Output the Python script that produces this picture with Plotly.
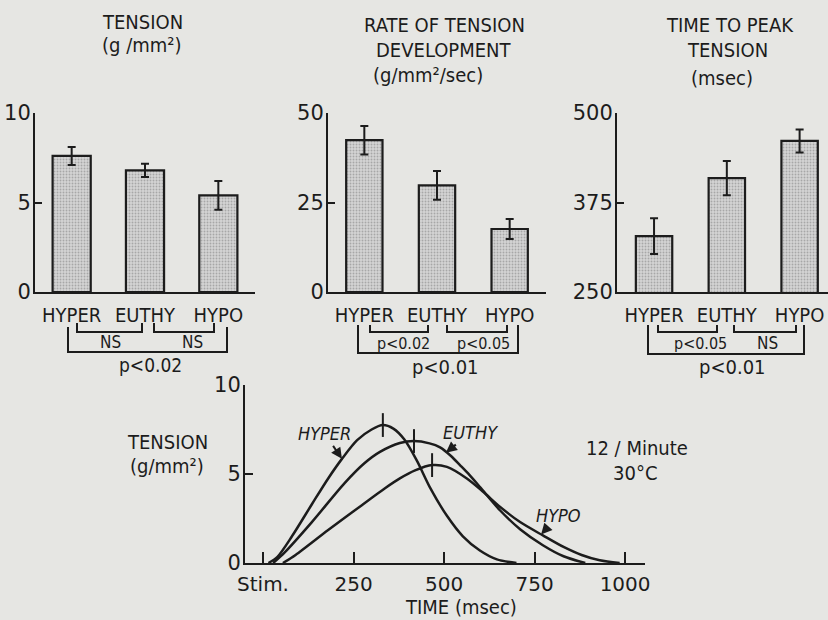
import plotly.graph_objects as go

W, H = 828, 620

# ---------------- data ----------------
groups = ["HYPER", "EUTHY", "HYPO"]
tension_mean = [7.6, 6.8, 5.4]
tension_err = [0.5, 0.37, 0.8]
rate_mean = [42.4, 29.8, 17.6]
rate_err = [4.0, 4.0, 2.8]
ttp_mean = [328, 409, 461]
ttp_err = [25, 24, 16]

hyper_t = [15, 40, 80, 135, 180, 218, 260, 300, 331, 360, 390, 425, 461, 508, 552, 599, 646, 700]
hyper_v = [0, 0.35, 1.5, 3.3, 4.75, 5.85, 6.9, 7.5, 7.75, 7.55, 6.95, 5.75, 4.25, 2.65, 1.5, 0.7, 0.2, 0]
euthy_t = [28, 60, 135, 226, 280, 323, 378, 417, 460, 489, 520, 544, 570, 600, 655, 710, 773, 830, 890]
euthy_v = [0, 0.6, 2.3, 4.5, 5.6, 6.24, 6.74, 6.85, 6.72, 6.5, 6.0, 5.5, 4.95, 4.25, 2.95, 1.9, 1.0, 0.38, 0]
hypo_t = [55, 90, 180, 273, 337, 378, 420, 467, 508, 563, 608, 655, 710, 773, 830, 880, 930, 985]
hypo_v = [0, 0.45, 1.85, 3.25, 4.2, 4.75, 5.2, 5.5, 5.4, 4.75, 4.0, 3.15, 2.3, 1.55, 0.9, 0.45, 0.15, 0]
peak_t = [331, 417, 467]
peak_v = [7.75, 6.85, 5.5]

time_ticks = [0, 250, 500, 750, 1000]
time_ticktext = ["Stim.", "250", "500", "750", "1000"]

# ---------------- style ----------------
INK = "#1c1c1c"
BG = "#e6e6e3"
LFONT = "DejaVu Sans Condensed, Liberation Sans Narrow, DejaVu Sans, sans-serif"
NFONT = "DejaVu Sans, sans-serif"


def X(px):
    return px / W


def Y(py):
    return 1 - py / H


fig = go.Figure()

bar_marker = dict(
    color="#c6c6c6",
    line=dict(color=INK, width=2.2),
    pattern=dict(shape=".", fgcolor="#7a7a7a", bgcolor="#d4d4d4", size=3, solidity=0.3),
)


def err(a):
    return dict(type="data", array=a, thickness=2, width=4, color=INK)


fig.add_trace(go.Bar(x=groups, y=tension_mean, error_y=err(tension_err), marker=bar_marker,
                     width=0.52, xaxis="x", yaxis="y", showlegend=False))
fig.add_trace(go.Bar(x=groups, y=rate_mean, error_y=err(rate_err), marker=bar_marker,
                     width=0.5, xaxis="x2", yaxis="y2", showlegend=False))
fig.add_trace(go.Bar(x=groups, y=ttp_mean, error_y=err(ttp_err), marker=bar_marker,
                     width=0.5, xaxis="x3", yaxis="y3", showlegend=False))

for t, v in [(hyper_t, hyper_v), (euthy_t, euthy_v), (hypo_t, hypo_v)]:
    fig.add_trace(go.Scatter(x=t, y=v, mode="lines",
                             line=dict(color=INK, width=2.5, shape="spline", smoothing=0.8),
                             xaxis="x4", yaxis="y4", showlegend=False, hoverinfo="skip"))
fig.add_trace(go.Scatter(x=peak_t, y=peak_v, mode="markers",
                         marker=dict(symbol="line-ns", size=17, line=dict(width=2, color=INK)),
                         xaxis="x4", yaxis="y4", showlegend=False))

common_axis = dict(showline=True, linecolor=INK, linewidth=2, showgrid=False, zeroline=False,
                   fixedrange=True, automargin=False)
ytop = dict(common_axis, ticks="inside", ticklen=7, tickwidth=2, tickcolor=INK,
            tickfont=dict(family=NFONT, size=21, color=INK), ticklabelstandoff=-2)
xtop = dict(common_axis, ticks="", tickfont=dict(family=LFONT, size=20, color=INK),
            ticklabelstandoff=4, type="category")

top_y_dom = [Y(292), Y(113)]
fig.update_layout(
    width=W, height=H, autosize=False,
    margin=dict(l=0, r=0, t=0, b=0, pad=0),
    paper_bgcolor=BG, plot_bgcolor="rgba(0,0,0,0)",
    xaxis=dict(xtop, domain=[X(35), X(255)], range=[-0.5, 2.5], anchor="y"),
    yaxis=dict(ytop, domain=top_y_dom, range=[0, 10], tickvals=[0, 5, 10], anchor="x"),
    xaxis2=dict(xtop, domain=[X(328), X(546)], range=[-0.5, 2.5], anchor="y2"),
    yaxis2=dict(ytop, domain=top_y_dom, range=[0, 50], tickvals=[0, 25, 50], anchor="x2"),
    xaxis3=dict(xtop, domain=[X(617), 1.0], range=[-0.509, 2.39], anchor="y3"),
    yaxis3=dict(ytop, domain=top_y_dom, range=[250, 500], tickvals=[250, 375, 500], anchor="x3"),
    xaxis4=dict(common_axis, domain=[X(245), X(645)], range=[-49.7, 1055], anchor="y4",
                tickvals=time_ticks, ticktext=time_ticktext, ticks="inside", ticklen=11,
                tickwidth=2, tickcolor=INK, tickfont=dict(family=NFONT, size=20, color=INK),
                ticklabelstandoff=2),
    yaxis4=dict(common_axis, domain=[Y(563), Y(385)], range=[0, 10], tickvals=[0, 5, 10],
                anchor="x4", ticks="inside", ticklen=8, tickwidth=2, tickcolor=INK,
                tickfont=dict(family=NFONT, size=21, color=INK), ticklabelstandoff=-2),
)

annotations = []


def txt(px, py, s, size=19, family=LFONT):
    annotations.append(dict(x=X(px), y=Y(py), xref="paper", yref="paper", text=s,
                            showarrow=False, xanchor="center", yanchor="middle",
                            font=dict(family=family, size=size, color=INK)))


# panel titles
txt(142, 22, "TENSION", 20)
txt(142, 45, "(g /mm²)", 20)
txt(444, 25, "RATE OF TENSION", 20)
txt(444, 50, "DEVELOPMENT", 20)
txt(428, 75, "(g/mm²/sec)", 20)
txt(730, 25, "TIME TO PEAK", 20)
txt(727, 50, "TENSION", 20)
txt(722, 78, "(msec)", 20)

# significance labels
txt(110, 342, "NS", 17)
txt(192, 342, "NS", 17)
txt(150, 365, "p<0.02", 19)
txt(403, 343, "p<0.02", 16)
txt(483, 343, "p<0.05", 16)
txt(445, 367, "p<0.01", 20)
txt(700, 343, "p<0.05", 16)
txt(767, 343, "NS", 17)
txt(732, 367, "p<0.01", 20)

# bottom panel texts
txt(167, 442, "TENSION", 20)
txt(167, 466, "(g/mm²)", 20)
txt(637, 448, "12 / Minute", 20)
txt(635, 473, "30°C", 20)
txt(461, 607, "TIME (msec)", 20)


# curve labels with arrows pointing at the curves (tips in data coords of bottom panel)
def curve_label(s, tip_t, tip_v, dx, dy):
    annotations.append(dict(x=tip_t, y=tip_v, xref="x4", yref="y4", text=s,
                            showarrow=True, ax=dx, ay=dy, axref="pixel", ayref="pixel",
                            arrowhead=2, arrowsize=1.1, arrowwidth=2, arrowcolor=INK,
                            font=dict(family=LFONT, size=18, color=INK)))


curve_label("<i>HYPER</i>", 218, 5.85, -17, -25)
curve_label("<i>EUTHY</i>", 505, 6.2, 25, -20)
curve_label("<i>HYPO</i>", 768, 1.6, 17, -19)

fig.update_layout(annotations=annotations)

# brackets
shapes = []


def bracket(x0, x1, y0, y1):
    path = f"M {X(x0)},{Y(y0)} L {X(x0)},{Y(y1)} L {X(x1)},{Y(y1)} L {X(x1)},{Y(y0)}"
    shapes.append(dict(type="path", path=path, xref="paper", yref="paper",
                       line=dict(color=INK, width=2)))


bracket(77, 142, 323, 332)
bracket(154, 214, 323, 332)
bracket(68, 227, 327, 352)
bracket(370, 428, 325, 332)
bracket(447, 507, 325, 332)
bracket(358, 518, 325, 353)
bracket(658, 717, 325, 332)
bracket(734, 796, 325, 332)
bracket(648, 804, 325, 354)

fig.update_layout(shapes=shapes)

fig.write_html("out.html", config={"displayModeBar": False},
               post_script="document.body.style.margin='0px';document.body.style.overflow='hidden';")
